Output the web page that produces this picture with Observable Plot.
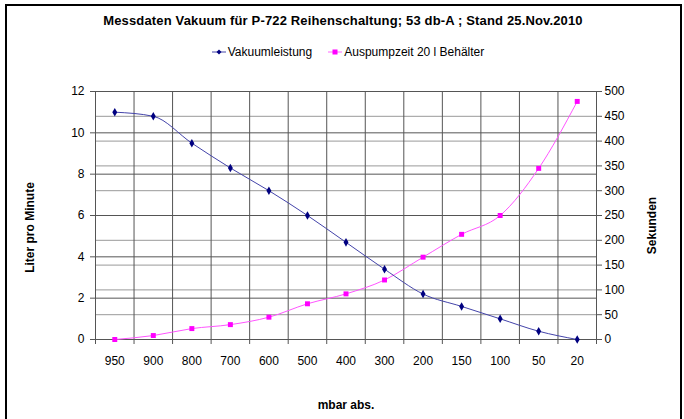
<!DOCTYPE html>
<html><head><meta charset="utf-8">
<script src="https://cdn.jsdelivr.net/npm/d3@7"></script>
<script src="https://cdn.jsdelivr.net/npm/@observablehq/plot@0.6"></script>
<style>
html,body{margin:0;padding:0;background:#fff;overflow:hidden;width:684px;height:419px;font-family:"Liberation Sans",Arial,sans-serif;color:#000;}
#frame{position:absolute;left:5px;top:4px;width:677px;height:440px;border:2px solid #000;box-sizing:border-box;}
#title{position:absolute;left:0;top:13px;width:686px;text-align:center;font-weight:bold;font-size:13px;letter-spacing:0.15px;}
#legend{position:absolute;left:4px;top:45px;width:688px;display:flex;justify-content:center;align-items:center;font-size:12px;}
#legend .item{display:flex;align-items:center;margin:0 8px;}
#legend svg{margin-right:2px;}
#chart{position:absolute;left:0;top:70px;}
</style></head>
<body>
<div id="frame"></div>
<div id="title"></div>
<div id="legend"></div>
<div id="chart"></div>
<script>
const title = "Messdaten Vakuum für P-722 Reihenschaltung; 53 db-A ; Stand 25.Nov.2010";
const categories = ["950","900","800","700","600","500","400","300","200","150","100","50","20"];
const vakuumleistung = [11.0,10.8,9.5,8.3,7.2,6.0,4.7,3.4,2.2,1.6,1.0,0.4,0];
const auspumpzeit = [0,8,22,30,45,72,92,120,166,212,250,345,480];
const seriesNames = ["Vakuumleistung","Auspumpzeit 20 l Behälter"];
const seriesColors = ["#000080","#ff00ff"];
const leftTicks = [0,2,4,6,8,10,12];
const rightTicks = [0,50,100,150,200,250,300,350,400,450,500];
const yLeftTitle = "Liter pro Minute";
const yRightTitle = "Sekunden";
const xTitle = "mbar abs.";

const k = leftTicks[leftTicks.length-1] / rightTicks[rightTicks.length-1];
const idx = categories.map((c,i)=>i);
const boundaries = d3.range(categories.length+1).map(i=>i-0.5);
const rows = categories.map((c,i)=>({i, cat:c, v:vakuumleistung[i], a:auspumpzeit[i]*k}));

document.getElementById("title").textContent = title;
const leg = document.getElementById("legend");
seriesNames.forEach((name,j)=>{
  const it = document.createElement("div"); it.className="item";
  const marker = j===0
    ? `<svg width="14" height="10"><line x1="0" y1="5" x2="14" y2="5" stroke="#4444aa" stroke-width="1"/><path d="M7,2.5L9.5,5L7,7.5L4.5,5Z" fill="${seriesColors[0]}"/></svg>`
    : `<svg width="14" height="10"><line x1="0" y1="5" x2="14" y2="5" stroke="#ff66ff" stroke-width="1"/><rect x="4.5" y="2.5" width="5" height="5" fill="${seriesColors[1]}"/></svg>`;
  it.innerHTML = marker + `<span>${name}</span>`;
  leg.appendChild(it);
});

const chart = Plot.plot({
  width:684, height:349,
  marginTop:21, marginBottom:80, marginLeft:95, marginRight:88,
  x:{type:"linear", domain:[-0.5, categories.length-0.5]},
  y:{domain:[0,12]},
  style:{fontFamily:"Liberation Sans, Arial, sans-serif", fontSize:"12px", color:"#000", background:"transparent"},
  marks:[
    Plot.ruleY(rightTicks.map(t=>t*k), {stroke:"#999", strokeWidth:1}),
    Plot.ruleY(leftTicks, {stroke:"#555", strokeWidth:1}),
    Plot.ruleX(boundaries, {stroke:"#555", strokeWidth:1}),
    Plot.axisY(leftTicks, {anchor:"left", tickSize:5, tickPadding:6, label:null, stroke:"#555"}),
    Plot.axisY(rightTicks.map(t=>t*k), {anchor:"right", tickSize:5, tickPadding:3, label:null, stroke:"#555", tickFormat:d=>Math.round(d/k)}),
    Plot.axisX(boundaries, {anchor:"bottom", tickSize:5, tickFormat:()=>"", label:null, stroke:"#555"}),
    Plot.axisX(idx, {anchor:"bottom", tickSize:0, tickPadding:17, label:null, tickFormat:i=>categories[i]}),
    Plot.line(rows, {x:"i", y:"a", stroke:"#ff55ff", strokeWidth:1, curve:"monotone-x"}),
    Plot.dot(rows, {x:"i", y:"a", symbol:"square", r:2.8, fill:seriesColors[1], stroke:"none"}),
    Plot.line(rows, {x:"i", y:"v", stroke:"#4444aa", strokeWidth:1, curve:"monotone-x"}),
    Plot.dot(rows, {x:"i", y:"v", symbol:"diamond", r:2.6, fill:seriesColors[0], stroke:"none"}),
    Plot.text([yLeftTitle], {text:d=>d, frameAnchor:"left", textAnchor:"middle", dx:-65, dy:12, rotate:-90, fontWeight:"bold", fontSize:12}),
    Plot.text([yRightTitle], {text:d=>d, frameAnchor:"right", textAnchor:"middle", dx:56, dy:10, rotate:-90, fontWeight:"bold", fontSize:12}),
    Plot.text([xTitle], {text:d=>d, frameAnchor:"bottom", dy:69, fontWeight:"bold", fontSize:12})
  ]
});
document.getElementById("chart").appendChild(chart);
</script>
</body></html>
